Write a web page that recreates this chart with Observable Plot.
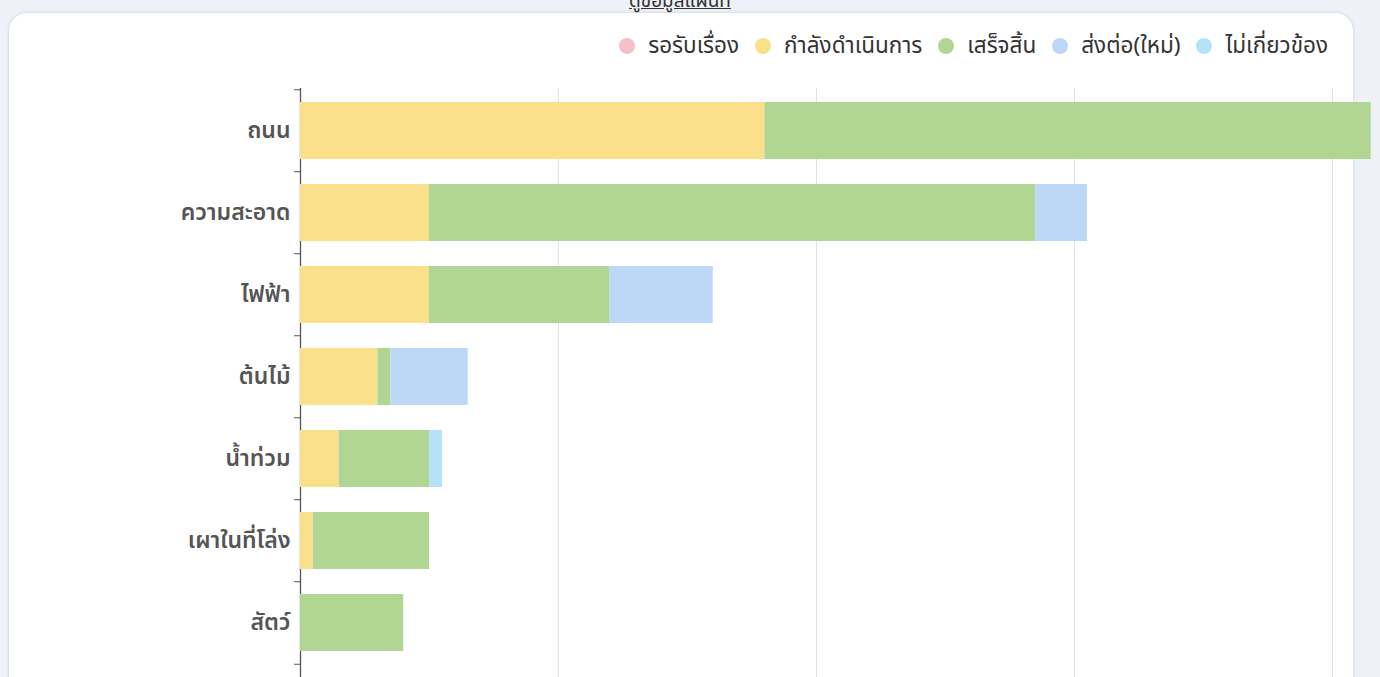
<!DOCTYPE html>
<html>
<head>
<meta charset="utf-8">
<script src="https://cdn.jsdelivr.net/npm/d3@7"></script>
<script src="https://cdn.jsdelivr.net/npm/@observablehq/plot@0.6"></script>
<style>
  html, body { margin: 0; padding: 0; width: 1380px; height: 677px; overflow: hidden; background: #eef1f7; }
  body { position: relative; font-family: "Noto Sans Thai", "Noto Sans", "DejaVu Sans", sans-serif; }
  #card { position: absolute; left: 9px; top: 13px; width: 1344px; height: 720px; background: #fff; border-radius: 18px; box-shadow: 0 0 3px rgba(60,70,100,0.25); }
  #title { position: absolute; left: 0; width: 1360px; top: -9px; text-align: center; font-size: 19px; line-height: 22px; color: #333; text-decoration: underline; }
  #legend { position: absolute; right: 52px; top: 31px; display: flex; align-items: center; font-size: 22.5px; line-height: 30px; color: #333; white-space: nowrap; }
  .item { display: flex; align-items: center; margin-left: 16px; }
  .dot { width: 16px; height: 16px; border-radius: 50%; margin-right: 13px; }
  #chart { position: absolute; left: 0; top: 0; }
  #chart svg { overflow: visible; }
</style>
</head>
<body>
<div id="card"></div>
<div id="title">ดูข้อมูลแผนที่</div>
<div id="legend"></div>
<div id="chart"></div>
<script>
const categories = ["ถนน", "ความสะอาด", "ไฟฟ้า", "ต้นไม้", "น้ำท่วม", "เผาในที่โล่ง", "สัตว์"];
const statuses = ["รอรับเรื่อง", "กำลังดำเนินการ", "เสร็จสิ้น", "ส่งต่อ(ใหม่)", "ไม่เกี่ยวข้อง"];
const statusColors = ["#f4c1c8", "#fae08b", "#b1d693", "#bdd8f7", "#b5e2f8"];
const waiting    = [0, 0, 0, 0, 0, 0, 0];
const inProgress = [36, 10, 10, 6, 3, 1, 0];
const done       = [47, 47, 14, 1, 7, 9, 8];
const forwarded  = [0, 4, 8, 6, 0, 0, 0];
const irrelevant = [0, 0, 0, 0, 1, 0, 0];
const gridTicks = [20, 40, 60, 80];

const series = [waiting, inProgress, done, forwarded, irrelevant];
const rows = [];
categories.forEach((c, i) => {
  statuses.forEach((s, j) => rows.push({category: c, status: s, value: series[j][i]}));
});

// legend
const legend = document.getElementById("legend");
statuses.forEach((s, j) => {
  const it = document.createElement("div");
  it.className = "item";
  it.innerHTML = `<span class="dot" style="background:${statusColors[j]}"></span><span>${s}</span>`;
  legend.appendChild(it);
});

const H = 760;
const top0 = 88, bottom0 = 665.5;
const step = (bottom0 - top0) / categories.length;

const chart = Plot.plot({
  width: 1380,
  height: H,
  marginLeft: 300,
  marginRight: 9.3,
  marginTop: top0,
  marginBottom: 0,
  style: {background: "transparent", fontFamily: "'Noto Sans Thai', 'Noto Sans', sans-serif"},
  x: {domain: [0, 83], axis: null},
  y: {domain: categories, paddingInner: 0.3, paddingOuter: 0.15, align: 0.5, insetBottom: H - bottom0, axis: null},
  color: {domain: statuses, range: statusColors},
  marks: [
    Plot.ruleX(gridTicks, {stroke: "#e2e2e2", strokeWidth: 1}),
    Plot.ruleX([0], {stroke: "#555", strokeWidth: 1.3}),
    Plot.barX(rows, {x: "value", y: "category", fill: "status"}),
    Plot.axisY({tickSize: 0, tickPadding: 10, fontSize: 23, fontWeight: 600, fill: "#555", label: null}),
    Plot.axisY({text: null, tickSize: 6, dy: -step / 2, stroke: "#555", label: null}),
    Plot.axisY({ticks: [categories[categories.length - 1]], text: null, tickSize: 6, dy: step / 2, stroke: "#555", label: null})
  ]
});
document.getElementById("chart").appendChild(chart);
</script>
</body>
</html>
